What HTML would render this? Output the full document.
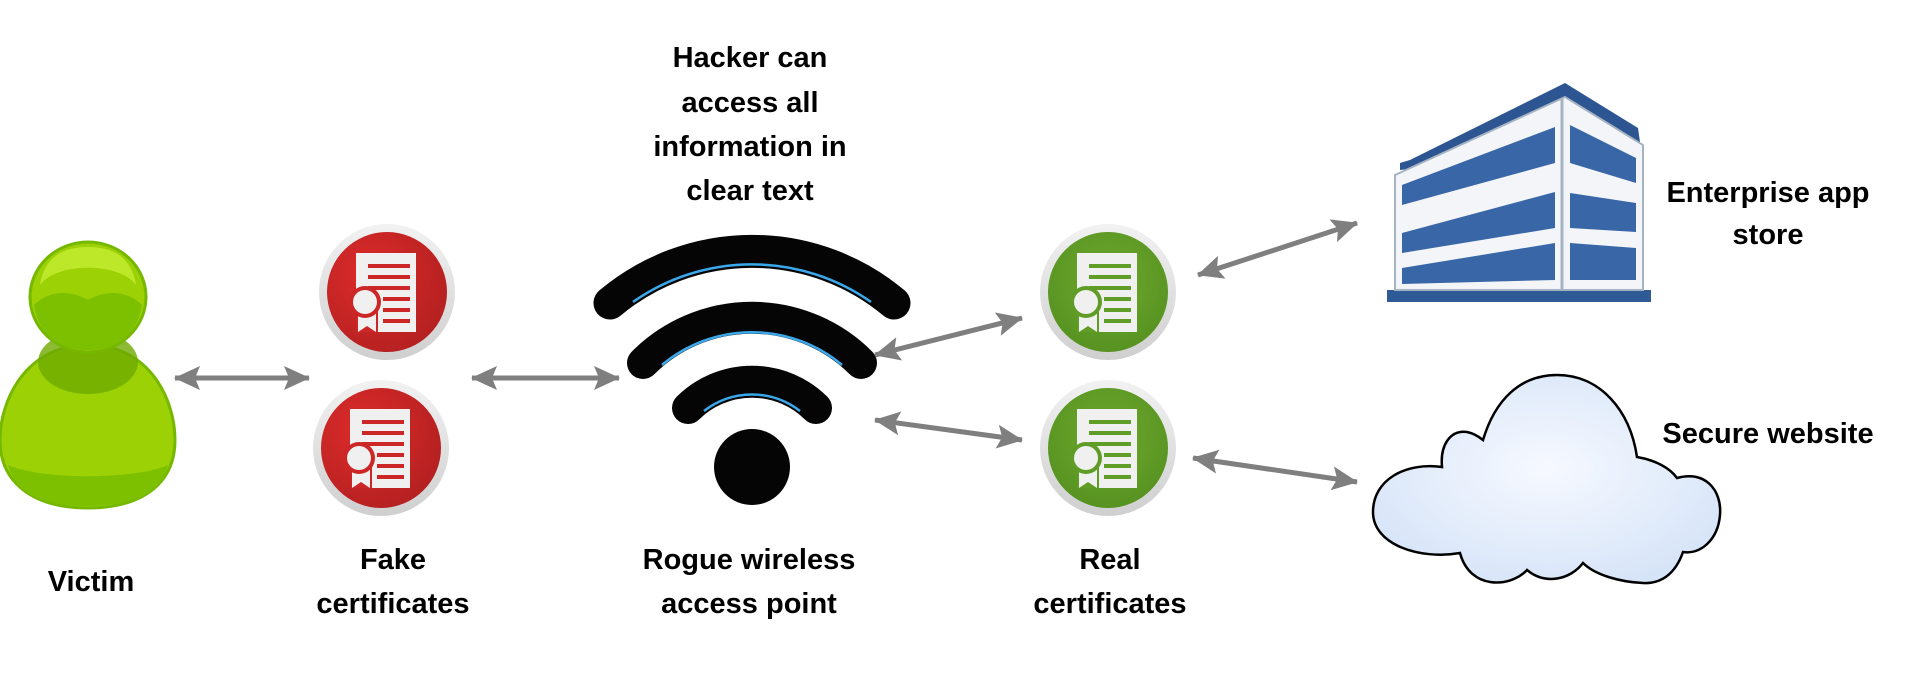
<!DOCTYPE html>
<html><head><meta charset="utf-8"><style>
html,body{margin:0;padding:0;background:#fff;}
svg{display:block;}
text{font-family:"Liberation Sans",sans-serif;font-weight:bold;font-size:29px;fill:#000;text-anchor:middle;}
</style></head><body>
<svg width="1913" height="688" viewBox="0 0 1913 688" xmlns="http://www.w3.org/2000/svg">
<defs>
<marker id="ah" viewBox="0 0 26 24" refX="25" refY="12" markerWidth="26" markerHeight="24" markerUnits="userSpaceOnUse" orient="auto-start-reverse">
<path d="M0,0 L26,12 L0,24 L5,12 Z" fill="#7f7f7f"/>
</marker>
<radialGradient id="rg" cx="0.35" cy="0.35" r="0.8"><stop offset="0" stop-color="#dc2b2b"/><stop offset="1" stop-color="#b01f1f"/></radialGradient>
<radialGradient id="gg" cx="0.5" cy="0.4" r="0.7"><stop offset="0" stop-color="#6ca92e"/><stop offset="1" stop-color="#548f1f"/></radialGradient>
<linearGradient id="ring" x1="0" y1="0" x2="0" y2="1"><stop offset="0" stop-color="#f2f2f2"/><stop offset="1" stop-color="#cfcfcf"/></linearGradient>
<radialGradient id="cl" cx="0.5" cy="0.45" r="0.6"><stop offset="0" stop-color="#f6f9ff"/><stop offset="1" stop-color="#d6e4f8"/></radialGradient>
</defs>

<!-- Victim -->
<path d="M88,345 C150,345 175,400 175,440 C175,485 140,508 88,508 C36,508 0,485 0,440 C0,400 26,345 88,345 Z" fill="#9bd105" stroke="#76b800" stroke-width="3"/>
<path d="M8,465 C40,480 136,480 168,465 C160,495 130,506 88,506 C46,506 16,495 8,465 Z" fill="#7cc000"/>
<ellipse cx="88" cy="362" rx="50" ry="32" fill="#6faa00" opacity="0.8"/>
<ellipse cx="88" cy="297" rx="58" ry="55" fill="#9bd105" stroke="#76b800" stroke-width="3"/>
<path d="M34,305 C50,290 70,290 88,300 C106,290 126,290 142,305 C138,335 115,350 88,350 C61,350 38,335 34,305 Z" fill="#7cc000"/>
<path d="M40,285 C45,255 65,247 88,247 C111,247 131,255 136,285 C120,262 56,262 40,285 Z" fill="#bde82a"/>

<!-- certificates -->
<g transform="translate(387,292)">
<circle r="68" fill="url(#ring)"/><circle r="60" fill="url(#rg)"/>
<rect x="-31" y="-39" width="60" height="79" fill="#f0f0f0"/>
<g fill="#cc2626"><rect x="-19" y="-28" width="42" height="4"/><rect x="-19" y="-17" width="42" height="4"/><rect x="-19" y="-6" width="42" height="4"/><rect x="-4" y="5" width="27" height="4"/><rect x="-4" y="16" width="27" height="4"/><rect x="-4" y="27" width="27" height="4"/></g>
<rect x="-31" y="14" width="22" height="26" fill="#cc2626"/>
<path d="M-29,18 L-11,18 L-11,40 L-20,34 L-29,40 Z" fill="#f0f0f0"/>
<circle cx="-22" cy="10" r="16" fill="#cc2626"/><circle cx="-22" cy="10" r="12" fill="#f0f0f0"/>
</g>
<g transform="translate(381,448)">
<circle r="68" fill="url(#ring)"/><circle r="60" fill="url(#rg)"/>
<rect x="-31" y="-39" width="60" height="79" fill="#f0f0f0"/>
<g fill="#cc2626"><rect x="-19" y="-28" width="42" height="4"/><rect x="-19" y="-17" width="42" height="4"/><rect x="-19" y="-6" width="42" height="4"/><rect x="-4" y="5" width="27" height="4"/><rect x="-4" y="16" width="27" height="4"/><rect x="-4" y="27" width="27" height="4"/></g>
<rect x="-31" y="14" width="22" height="26" fill="#cc2626"/>
<path d="M-29,18 L-11,18 L-11,40 L-20,34 L-29,40 Z" fill="#f0f0f0"/>
<circle cx="-22" cy="10" r="16" fill="#cc2626"/><circle cx="-22" cy="10" r="12" fill="#f0f0f0"/>
</g>
<g transform="translate(1108,292)">
<circle r="68" fill="url(#ring)"/><circle r="60" fill="url(#gg)"/>
<rect x="-31" y="-39" width="60" height="79" fill="#f0f0f0"/>
<g fill="#5f9d26"><rect x="-19" y="-28" width="42" height="4"/><rect x="-19" y="-17" width="42" height="4"/><rect x="-19" y="-6" width="42" height="4"/><rect x="-4" y="5" width="27" height="4"/><rect x="-4" y="16" width="27" height="4"/><rect x="-4" y="27" width="27" height="4"/></g>
<rect x="-31" y="14" width="22" height="26" fill="#5f9d26"/>
<path d="M-29,18 L-11,18 L-11,40 L-20,34 L-29,40 Z" fill="#f0f0f0"/>
<circle cx="-22" cy="10" r="16" fill="#5f9d26"/><circle cx="-22" cy="10" r="12" fill="#f0f0f0"/>
</g>
<g transform="translate(1108,448)">
<circle r="68" fill="url(#ring)"/><circle r="60" fill="url(#gg)"/>
<rect x="-31" y="-39" width="60" height="79" fill="#f0f0f0"/>
<g fill="#5f9d26"><rect x="-19" y="-28" width="42" height="4"/><rect x="-19" y="-17" width="42" height="4"/><rect x="-19" y="-6" width="42" height="4"/><rect x="-4" y="5" width="27" height="4"/><rect x="-4" y="16" width="27" height="4"/><rect x="-4" y="27" width="27" height="4"/></g>
<rect x="-31" y="14" width="22" height="26" fill="#5f9d26"/>
<path d="M-29,18 L-11,18 L-11,40 L-20,34 L-29,40 Z" fill="#f0f0f0"/>
<circle cx="-22" cy="10" r="16" fill="#5f9d26"/><circle cx="-22" cy="10" r="12" fill="#f0f0f0"/>
</g>

<!-- wifi -->
<g fill="none" stroke="#050505" stroke-linecap="round">
<path d="M610,303 A221,221 0 0 1 894,303" stroke-width="33"/>
<path d="M643,363 A154,154 0 0 1 861,363" stroke-width="32"/>
<path d="M688,408 A91,91 0 0 1 816,408" stroke-width="32"/>
</g>
<g fill="none" stroke="#3aa8ea" stroke-width="2.5">
<path d="M633,302 A207,207 0 0 1 871,302"/>
<path d="M662,365 A140,140 0 0 1 842,365"/>
<path d="M704,411 A78,78 0 0 1 800,411"/>
</g>
<circle cx="752" cy="467" r="38" fill="#050505"/>

<!-- arrows -->
<g stroke="#7f7f7f" stroke-width="5" marker-start="url(#ah)" marker-end="url(#ah)">
<line x1="175" y1="378" x2="309" y2="378"/>
<line x1="472" y1="378" x2="619" y2="378"/>
<line x1="875" y1="355" x2="1022" y2="318"/>
<line x1="875" y1="420" x2="1022" y2="440"/>
<line x1="1198" y1="275" x2="1357" y2="223"/>
<line x1="1193" y1="458" x2="1357" y2="482"/>
</g>

<!-- building -->
<rect x="1387" y="290" width="264" height="12" fill="#2e5a95"/>
<path d="M1400,170 L1400,163 L1410,160 L1565,83 L1638,128 L1640,142 Z" fill="#2c5592"/>
<path d="M1395,175 L1565,97 L1643,145 L1643,290 L1395,290 Z" fill="#f3f5f8" stroke="#a6b3c3" stroke-width="2"/>
<line x1="1562" y1="98" x2="1562" y2="290" stroke="#a6b3c3" stroke-width="3"/>
<g fill="#3966a6">
<path d="M1402,185 L1555,127 L1555,163 L1402,205 Z"/>
<path d="M1402,233 L1555,192 L1555,228 L1402,253 Z"/>
<path d="M1402,268 L1555,243 L1555,280 L1402,284 Z"/>
<path d="M1570,125 L1636,158 L1636,183 L1570,163 Z"/>
<path d="M1570,193 L1636,203 L1636,232 L1570,228 Z"/>
<path d="M1570,243 L1636,248 L1636,280 L1570,280 Z"/>
</g>

<!-- cloud -->
<path d="M1483,440 C1495,400 1520,375 1557,375 C1600,375 1630,410 1637,457 C1655,460 1670,468 1677,478 C1705,470 1722,490 1720,515 C1718,540 1700,555 1683,552 C1675,575 1660,584 1643,583 C1620,582 1595,575 1583,563 C1570,580 1545,585 1527,570 C1510,588 1470,590 1460,553 C1420,560 1373,545 1373,512 C1373,480 1405,462 1442,467 C1440,445 1450,430 1467,432 C1472,433 1478,436 1483,440 Z" fill="url(#cl)" stroke="#000" stroke-width="2.5"/>

<!-- texts -->
<text x="750" y="67">Hacker can</text>
<text x="750" y="112">access all</text>
<text x="750" y="156">information in</text>
<text x="750" y="200">clear text</text>
<text x="91" y="591">Victim</text>
<text x="393" y="569">Fake</text>
<text x="393" y="613">certificates</text>
<text x="749" y="569">Rogue wireless</text>
<text x="749" y="613">access point</text>
<text x="1110" y="569">Real</text>
<text x="1110" y="613">certificates</text>
<text x="1768" y="202">Enterprise app</text>
<text x="1768" y="244">store</text>
<text x="1768" y="443">Secure website</text>
</svg>
</body></html>
